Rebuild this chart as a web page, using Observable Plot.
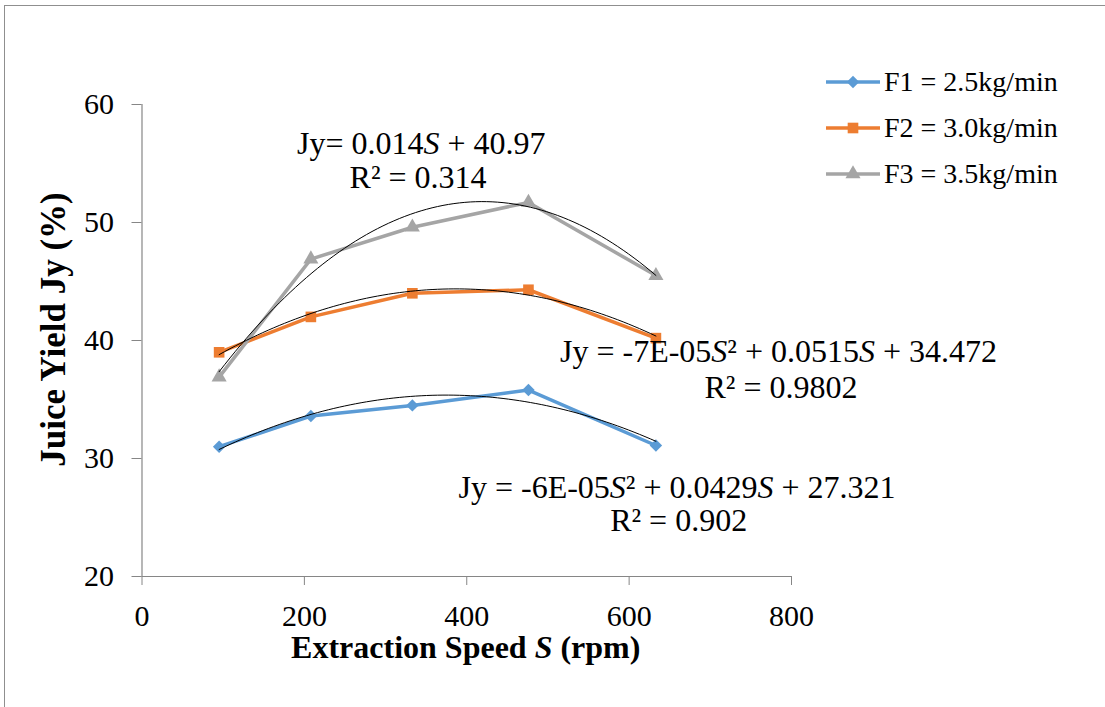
<!DOCTYPE html>
<html>
<head>
<meta charset="utf-8">
<script src="https://cdn.jsdelivr.net/npm/d3@7"></script>
<script src="https://cdn.jsdelivr.net/npm/@observablehq/plot@0.6"></script>
<style>
  html, body { margin: 0; padding: 0; background: #fff; overflow: hidden; }
  #wrap { position: relative; width: 1105px; height: 707px; overflow: hidden; }
  #frame { position: absolute; left: 4px; top: 5px; width: 1300px; height: 900px;
           border-left: 1.5px solid #8f8f8f; border-top: 1.5px solid #8f8f8f; }
  #chart { position: absolute; left: 0; top: 0; }
  #legend { position: absolute; left: 826px; top: 59px; font-family: "Liberation Serif", "Times New Roman", serif; font-size: 28px; color: #000; }
  .row { display: flex; align-items: center; height: 46px; }
  .row span { margin-left: 4px; white-space: nowrap; }
</style>
</head>
<body>
<div id="wrap">
  <div id="frame"></div>
  <div id="chart"></div>
  <div id="legend"></div>
</div>
<script>
// ---- data ----
const speed = [95, 208, 333, 476, 633];
const f1 = [31.0, 33.6, 34.5, 35.8, 31.1];
const f2 = [39.0, 42.0, 44.0, 44.3, 40.2];
const f3 = [36.9, 46.9, 49.6, 51.7, 45.5];
const seriesNames = ["F1 = 2.5kg/min", "F2 = 3.0kg/min", "F3 = 3.5kg/min"];
const seriesValues = [f1, f2, f3];
const colors = ["#5b9bd5", "#ed7d31", "#a5a5a5"];
const symbols = ["diamond2", "square", "triangle"];
const xTicks = [0, 200, 400, 600, 800];
const yTicks = [20, 30, 40, 50, 60];
// equation annotations (text, anchor in data units)
const eqText = [
  "Jy= 0.014§ + 40.97", "R² = 0.314",
  "Jy = -7E-05§² + 0.0515§ + 34.472", "R² = 0.9802",
  "Jy = -6E-05§² + 0.0429§ + 27.321", "R² = 0.902"
];
const eqX = [344, 340, 784, 787, 659, 661];
const eqY = [56.7, 53.8, 39.07, 36.0, 27.54, 24.75];

// ---- build tables ----
const rows = [];
seriesNames.forEach((name, i) => speed.forEach((s, j) => rows.push({series: name, idx: i, speed: s, jy: seriesValues[i][j]})));

// least squares quadratic trendline (Excel polynomial order 2)
function quadFit(xs, ys) {
  const n = xs.length;
  let S = [0,0,0,0,0], T = [0,0,0];
  for (let k = 0; k < n; k++) {
    const x = xs[k], y = ys[k];
    for (let p = 0; p < 5; p++) S[p] += Math.pow(x, p);
    for (let p = 0; p < 3; p++) T[p] += y * Math.pow(x, p);
  }
  const A = [[S[0],S[1],S[2],T[0]],[S[1],S[2],S[3],T[1]],[S[2],S[3],S[4],T[2]]];
  for (let c = 0; c < 3; c++) {
    for (let r = c + 1; r < 3; r++) {
      const f = A[r][c] / A[c][c];
      for (let k = c; k < 4; k++) A[r][k] -= f * A[c][k];
    }
  }
  const b = [0,0,0];
  for (let r = 2; r >= 0; r--) {
    let s = A[r][3];
    for (let k = r + 1; k < 3; k++) s -= A[r][k] * b[k];
    b[r] = s / A[r][r];
  }
  return x => b[0] + b[1] * x + b[2] * x * x;
}
const trend = [];
seriesNames.forEach((name, i) => {
  const fn = quadFit(speed, seriesValues[i]);
  const x0 = d3.min(speed), x1 = d3.max(speed);
  d3.range(81).forEach(k => { const x = x0 + (x1 - x0) * k / 80; trend.push({series: name, speed: x, jy: fn(x)}); });
});
const eqs = eqText.map((t, i) => ({t, x: eqX[i], y: eqY[i]}));

const axisColor = "#868686";
const marks = [
  Plot.ruleX([0], {stroke: axisColor, strokeWidth: 1.2}),
  Plot.ruleY([20], {stroke: axisColor, strokeWidth: 1.2}),
  Plot.axisY({ticks: yTicks, tickSize: 10, tickPadding: 18, stroke: axisColor, fill: "#000", fontSize: 30, label: null}),
  Plot.axisX({ticks: xTicks, tickSize: 9, tickPadding: 19, stroke: axisColor, fill: "#000", fontSize: 30, label: null}),
];
seriesNames.forEach((name, i) => {
  const d = rows.filter(r => r.idx === i);
  marks.push(Plot.line(d, {x: "speed", y: "jy", stroke: colors[i], strokeWidth: 3.5, strokeLinejoin: "round"}));
});
seriesNames.forEach((name, i) => {
  const d = rows.filter(r => r.idx === i);
  marks.push(Plot.dot(d, {x: "speed", y: "jy", symbol: symbols[i], fill: colors[i], stroke: "none", r: i === 1 ? 6 : 5.6}));
});
marks.push(Plot.line(trend, {x: "speed", y: "jy", z: "series", stroke: "#000", strokeWidth: 1}));
marks.push(Plot.text(eqs, {x: "x", y: "y", text: "t", fontSize: 32, fill: "#000", textAnchor: "middle"}));
marks.push(Plot.text(["Juice Yield Jy (%)"], {frameAnchor: "left", textAnchor: "middle", dx: -88, dy: -11, rotate: -90, fontSize: 35, fontWeight: "bold", fill: "#000"}));
marks.push(Plot.text(["Extraction Speed § (rpm)"], {frameAnchor: "bottom", textAnchor: "middle", dx: -1, dy: 81, fontSize: 32, fontWeight: "bold", fill: "#000"}));

const chart = Plot.plot({
  width: 1105, height: 707,
  marginLeft: 141.5, marginRight: 314, marginTop: 104, marginBottom: 131,
  x: {domain: [0, 800]},
  y: {domain: [20, 60]},
  style: {fontFamily: "'Liberation Serif', 'Times New Roman', serif", color: "#000", background: "transparent", overflow: "visible"},
  marks
});

// italic S in texts
d3.select(chart).selectAll("text").each(function() {
  const t = this.textContent;
  if (!t.includes("§")) return;
  const parts = t.split("§");
  this.textContent = "";
  parts.forEach((p, i) => {
    if (i > 0) {
      const ts = document.createElementNS("http://www.w3.org/2000/svg", "tspan");
      ts.setAttribute("font-style", "italic");
      ts.textContent = "S";
      this.appendChild(ts);
    }
    if (p) this.appendChild(document.createTextNode(p));
  });
});
document.getElementById("chart").appendChild(chart);

// legend
const legend = d3.select("#legend");
seriesNames.forEach((name, i) => {
  const row = legend.append("div").attr("class", "row");
  const svg = row.append("svg").attr("width", 54).attr("height", 20);
  svg.append("line").attr("x1", 0).attr("x2", 54).attr("y1", 10).attr("y2", 10).attr("stroke", colors[i]).attr("stroke-width", 3.5);
  const sym = [d3.symbolDiamond2, d3.symbolSquare, d3.symbolTriangle][i];
  const r = i === 1 ? 6 : 5.6;
  svg.append("path").attr("transform", "translate(27,10)").attr("d", d3.symbol(sym, Math.PI * r * r)()).attr("fill", colors[i]);
  row.append("span").text(name);
});
</script>
</body>
</html>
